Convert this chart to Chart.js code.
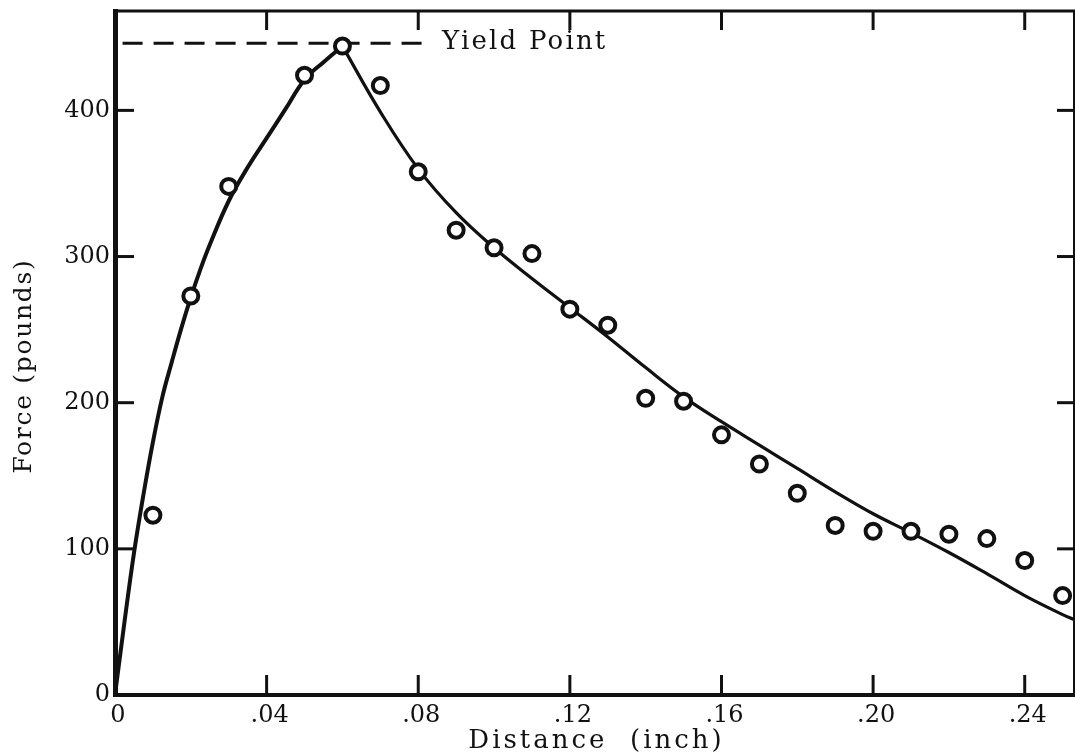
<!DOCTYPE html>
<html lang="en">
<head>
    <meta charset="UTF-8" />
    <title>Force vs Distance</title>
    <script src="https://cdn.jsdelivr.net/npm/chart.js"></script>
    <style>
        html, body { margin: 0; padding: 0; background: #fff; }
    </style>
</head>

<body>
    <canvas id="chart" width="1075" height="755"></canvas>

    <script>
        // measured points
        const distance = [0.01, 0.02, 0.03, 0.05, 0.06, 0.07, 0.08, 0.09, 0.10, 0.11, 0.12, 0.13,
                          0.14, 0.15, 0.16, 0.17, 0.18, 0.19, 0.20, 0.21, 0.22, 0.23, 0.24, 0.25];
        const force = [123, 273, 348, 424, 444, 417, 358, 318, 306, 302, 264, 253,
                       203, 201, 178, 158, 138, 116, 112, 112, 110, 107, 92, 68];

        // faired curve, loading branch up to the yield point
        const riseX = [0, 0.0025, 0.005, 0.0075, 0.01, 0.0125, 0.015, 0.0175, 0.02, 0.0225, 0.025,
                       0.03, 0.035, 0.04, 0.045, 0.05, 0.055, 0.06];
        const riseY = [0, 50, 97, 137, 173, 204, 228, 251, 272, 291, 308,
                       338, 361, 381, 401, 421, 433, 444];

        // unloading branch after yield
        const fallX = [0.06, 0.07, 0.08, 0.09, 0.10, 0.11, 0.12, 0.13, 0.14, 0.15, 0.16,
                       0.17, 0.18, 0.19, 0.20, 0.21, 0.22, 0.23, 0.24, 0.25, 0.253];
        const fallY = [444, 399, 360, 330, 306, 285, 265, 245, 224, 204, 187,
                       171, 155, 139, 124, 111, 97.5, 83, 68, 55, 51.6];

        // dashed yield level
        const yieldX = [0.002, 0.0818];
        const yieldForce = 446;

        const xTicks = [0, 0.04, 0.08, 0.12, 0.16, 0.20, 0.24];
        const yTicks = [0, 100, 200, 300, 400];

        const ink = '#111';
        const serif = "'DejaVu Serif', serif";

        const pts = (xs, ys) => xs.map((x, i) => ({ x: x, y: ys[i] }));

        const line = (ctx, x1, y1, x2, y2) => {
            ctx.beginPath();
            ctx.moveTo(x1, y1);
            ctx.lineTo(x2, y2);
            ctx.stroke();
        };

        // top/right frame, inward tick marks and the hand-lettered texts
        const frame = {
            id: 'frame',
            afterDatasetsDraw(chart) {
                const { ctx, scales: { x, y } } = chart;
                const px = x.getPixelForValue(yieldX[1]);
                const py = y.getPixelForValue(yieldForce);
                ctx.save();
                ctx.fillStyle = ink;
                ctx.font = '26px ' + serif;
                ctx.letterSpacing = '2.2px';
                ctx.textBaseline = 'alphabetic';
                ctx.fillText('Yield Point', px + 17, py + 6);
                ctx.restore();
            },
            afterDraw(chart) {
                const { ctx, chartArea: a, scales: { x, y } } = chart;
                ctx.save();
                ctx.strokeStyle = ink;
                ctx.lineCap = 'butt';
                ctx.lineWidth = 3;
                line(ctx, a.left - 2, a.top, a.right + 1, a.top);
                ctx.lineWidth = 2;
                line(ctx, a.right, a.top, a.right, a.bottom);

                ctx.lineWidth = 3;
                xTicks.forEach(v => {
                    if (v === 0) return;
                    const px = x.getPixelForValue(v);
                    line(ctx, px, a.bottom, px, a.bottom - 20);
                    line(ctx, px, a.top, px, a.top + 19);
                });
                yTicks.forEach(v => {
                    if (v === 0) return;
                    const py = y.getPixelForValue(v);
                    line(ctx, a.left, py, a.left + 19, py);
                    line(ctx, a.right, py, a.right - 17, py);
                });

                // axis titles
                ctx.fillStyle = ink;
                ctx.textAlign = 'center';
                ctx.textBaseline = 'alphabetic';
                ctx.font = '26px ' + serif;
                ctx.letterSpacing = '3px';
                ctx.fillText('Distance  (inch)', (a.left + a.right) / 2 + 2, 748);

                ctx.translate(31, (a.top + a.bottom) / 2 + 13);
                ctx.rotate(-Math.PI / 2);
                ctx.font = '25px ' + serif;
                ctx.letterSpacing = '1.7px';
                ctx.fillText('Force (pounds)', 0, 0);
                ctx.restore();
            }
        };

        new Chart(document.getElementById('chart'), {
            type: 'scatter',
            data: {
                datasets: [{
                    label: 'Measured',
                    data: pts(distance, force),
                    pointRadius: 7.5,
                    pointBorderWidth: 4,
                    borderColor: ink,
                    backgroundColor: '#fff',
                    pointHoverRadius: 7.5
                }, {
                    type: 'line',
                    label: 'Loading',
                    data: pts(riseX, riseY),
                    borderColor: ink,
                    borderWidth: 4,
                    pointRadius: 0,
                    tension: 0.4,
                    fill: false
                }, {
                    type: 'line',
                    label: 'Unloading',
                    data: pts(fallX, fallY),
                    borderColor: ink,
                    borderWidth: 3.2,
                    pointRadius: 0,
                    tension: 0.4,
                    fill: false
                }, {
                    type: 'line',
                    label: 'Yield Point',
                    data: yieldX.map(v => ({ x: v, y: yieldForce })),
                    borderColor: ink,
                    borderWidth: 3,
                    borderDash: [20, 11],
                    pointRadius: 0,
                    fill: false
                }]
            },
            options: {
                responsive: false,
                animation: false,
                layout: { autoPadding: false, padding: { top: 11, right: 1, left: 0, bottom: 0 } },
                plugins: {
                    legend: { display: false },
                    tooltip: { enabled: false }
                },
                scales: {
                    x: {
                        type: 'linear',
                        min: 0,
                        max: 0.253,
                        afterFit: s => { s.height = 60; s.paddingLeft = 0; s.paddingRight = 0; },
                        afterBuildTicks: s => { s.ticks = xTicks.map(v => ({ value: v })); },
                        grid: { display: true, drawOnChartArea: false, drawTicks: false },
                        border: { display: true, width: 4, color: ink },
                        ticks: {
                            color: ink,
                            font: { family: serif, size: 24 },
                            padding: 6,
                            labelOffset: 3,
                            maxRotation: 0,
                            autoSkip: false,
                            callback: v => v === 0 ? '0' : '.' + String(Math.round(v * 100)).padStart(2, '0')
                        }
                    },
                    y: {
                        min: 0,
                        max: 468,
                        afterFit: s => { s.width = 115; s.paddingTop = 0; s.paddingBottom = 0; },
                        afterBuildTicks: s => { s.ticks = yTicks.map(v => ({ value: v })); },
                        grid: { display: true, drawOnChartArea: false, drawTicks: false },
                        border: { display: true, width: 5, color: ink },
                        ticks: {
                            color: ink,
                            font: { family: serif, size: 24 },
                            padding: 5
                        }
                    }
                }
            },
            plugins: [frame]
        });
    </script>
</body>
</html>
